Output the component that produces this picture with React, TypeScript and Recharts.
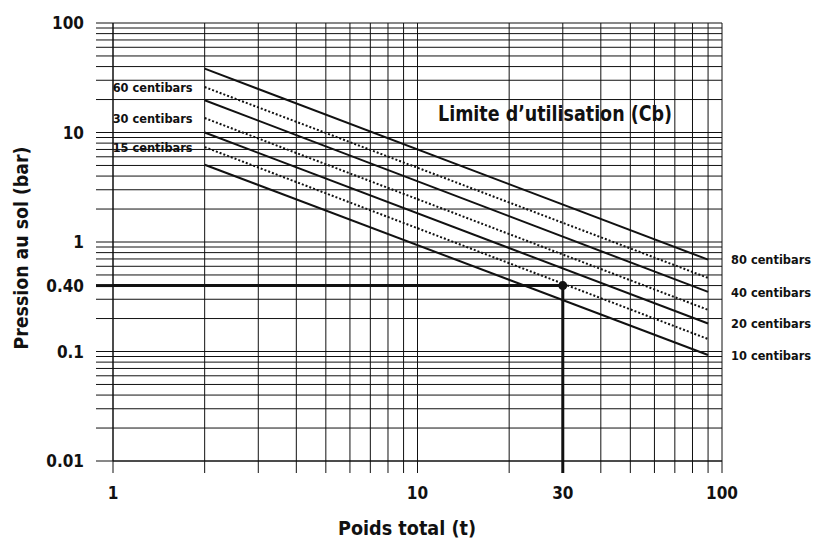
import {
  LineChart,
  Line,
  XAxis,
  YAxis,
  CartesianGrid,
  ReferenceLine,
  ReferenceDot,
  LabelList,
  Customized,
} from "recharts";

// Courbes de limite d'utilisation (Cb), lues aux deux extrémités
const curveNames = [
  "80 centibars",
  "60 centibars",
  "40 centibars",
  "30 centibars",
  "20 centibars",
  "15 centibars",
  "10 centibars",
];
const weightStart = 2;
const weightEnd = 90;
const pressureStart = [38.3, 26.0, 19.7, 13.55, 10.0, 7.36, 5.08];
const pressureEnd = [0.69, 0.47, 0.35, 0.24, 0.18, 0.13, 0.093];

// point d'exemple
const refWeight = 30;
const refPressure = 0.4;

// grille log
const xTicks = [1, 2, 3, 4, 5, 6, 7, 8, 9, 10, 20, 30, 40, 50, 60, 70, 80, 90, 100];
const yTicks = [
  0.01, 0.02, 0.03, 0.04, 0.05, 0.06, 0.07, 0.08, 0.09,
  0.1, 0.2, 0.3, 0.4, 0.5, 0.6, 0.7, 0.8, 0.9,
  1, 2, 3, 4, 5, 6, 7, 8, 9,
  10, 20, 30, 40, 50, 60, 70, 80, 90, 100,
];
const xLabels = [1, 10, 30, 100];
const yLabels = [100, 10, 1, 0.4, 0.1, 0.01];
const yLabelText: Record<string, string> = { "0.4": "0.40" };

const FONT = "'DejaVu Sans Condensed', 'DejaVu Sans', sans-serif";
const INK = "#111";

function XTick(props: any) {
  const { x, y, payload } = props;
  const v = payload.value;
  return (
    <g>
      <line x1={x} x2={x} y1={y - 12} y2={y} stroke={INK} strokeWidth={v === refWeight ? 3 : 1} />
      {xLabels.includes(v) && (
        <text x={x} y={y + 26} textAnchor="middle" fontFamily={FONT} fontWeight="bold" fontSize={17} fill={INK}>
          {v}
        </text>
      )}
    </g>
  );
}

function YTick(props: any) {
  const { x, y, payload } = props;
  const v = payload.value;
  return (
    <g>
      <line x1={x} x2={x + 17} y1={y} y2={y} stroke={INK} strokeWidth={v === refPressure ? 3 : 1} />
      {yLabels.includes(v) && (
        <text x={x - 12} y={y} dy="0.36em" textAnchor="end" fontFamily={FONT} fontWeight="bold" fontSize={17} fill={INK}>
          {yLabelText[String(v)] ?? String(v)}
        </text>
      )}
    </g>
  );
}

function curveLabel(name: string, dotted: boolean) {
  return (props: any) => {
    const { x, y, index } = props;
    if (dotted && index === 0) {
      return (
        <text x={x - 12} y={y} dy="0.36em" textAnchor="end" fontFamily={FONT} fontWeight="bold" fontSize={13}
          fill={INK} textLength={80} lengthAdjust="spacingAndGlyphs">
          {name}
        </text>
      );
    }
    if (!dotted && index === 1) {
      return (
        <text x={x + 23} y={y} dy="0.36em" textAnchor="start" fontFamily={FONT} fontWeight="bold" fontSize={13}
          fill={INK} textLength={80} lengthAdjust="spacingAndGlyphs">
          {name}
        </text>
      );
    }
    return null;
  };
}

function Titles() {
  return (
    <g fontFamily={FONT} fontWeight="bold" fill={INK}>
      <text x={555} y={113} dy="0.36em" textAnchor="middle" fontSize={22} textLength={234} lengthAdjust="spacingAndGlyphs">
        Limite d’utilisation (Cb)
      </text>
      <text x={407} y={528} dy="0.36em" textAnchor="middle" fontSize={20} textLength={138} lengthAdjust="spacingAndGlyphs">
        Poids total (t)
      </text>
      <text x={21} y={248} dy="0.36em" textAnchor="middle" fontSize={20} textLength={203} lengthAdjust="spacingAndGlyphs"
        transform="rotate(-90 21 248)">
        Pression au sol (bar)
      </text>
    </g>
  );
}

export default function App() {
  return (
    <div style={{ position: "absolute", left: 0, top: 0, width: 816, height: 542, background: "#fff" }}>
      <LineChart width={816} height={542} margin={{ top: 23, right: 94, bottom: 0, left: 0 }}>
        <CartesianGrid stroke={INK} strokeWidth={1} />
        <XAxis
          type="number"
          dataKey="w"
          scale="log"
          domain={[1, 100]}
          ticks={xTicks}
          interval={0}
          allowDataOverflow
          height={81}
          tickSize={12}
          tickMargin={0}
          tickLine={false}
          axisLine={{ stroke: INK }}
          tick={<XTick />}
        />
        <YAxis
          type="number"
          scale="log"
          domain={[0.01, 100]}
          ticks={yTicks}
          interval={0}
          allowDataOverflow
          width={113}
          tickSize={17}
          tickMargin={0}
          tickLine={false}
          axisLine={{ stroke: INK }}
          tick={<YTick />}
        />
        {curveNames.map((name, i) => {
          const dotted = i % 2 === 1;
          const data = [
            { w: weightStart, p: pressureStart[i] },
            { w: weightEnd, p: pressureEnd[i] },
          ];
          return (
            <Line
              key={name}
              data={data}
              dataKey="p"
              stroke={INK}
              strokeWidth={2}
              strokeDasharray={dotted ? "2 2" : undefined}
              dot={false}
              activeDot={false}
              isAnimationActive={false}
            >
              <LabelList dataKey="p" content={curveLabel(name, dotted)} />
            </Line>
          );
        })}
        <ReferenceLine
          segment={[{ x: 1, y: refPressure }, { x: refWeight, y: refPressure }]}
          stroke={INK}
          strokeWidth={3}
        />
        <ReferenceLine
          segment={[{ x: refWeight, y: refPressure }, { x: refWeight, y: 0.01 }]}
          stroke={INK}
          strokeWidth={3}
        />
        <ReferenceDot x={refWeight} y={refPressure} r={4.5} fill={INK} stroke="none" />
        <Customized component={<Titles />} />
      </LineChart>
    </div>
  );
}
